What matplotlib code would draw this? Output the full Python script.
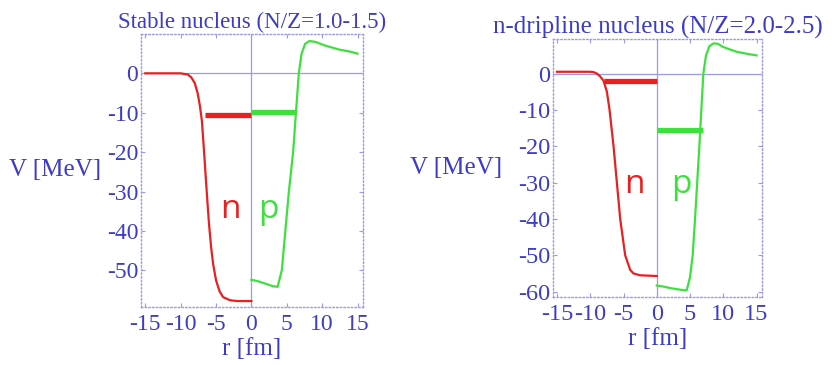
import numpy as np
import matplotlib
matplotlib.use("Agg")
import matplotlib.pyplot as plt

# mean-field potentials V(r) for neutrons (r<0 side) and protons (r>0 side)

# stable nucleus
stable_n_r = [-15, -10, -9, -8.5, -8, -7.6, -7.3, -7.0, -6.8, -6.5, -6.2, -6.0, -5.7, -5.4, -5.0, -4.5, -4.0, -3.0, -2.0, 0]
stable_n_V = [0, 0, -0.3, -1, -2.5, -5, -8, -12, -17, -25, -33, -38, -44, -48.5, -52.5, -55.3, -56.8, -57.6, -57.8, -57.8]
stable_p_r = [0, 1, 2, 3, 3.7, 4.3, 4.8, 5.3, 5.9, 6.3, 6.7, 7.1, 7.6, 8.2, 9, 10.5, 12.5, 14, 15]
stable_p_V = [-52.4, -52.8, -53.4, -54, -54.2, -50, -40, -30, -20, -10, 0, 5, 7.5, 8.2, 8, 7, 6, 5.5, 5]
stable_n_level = -10.6
stable_n_level_r = [-6.6, 0]
stable_p_level = -9.8
stable_p_level_r = [0, 6.3]

# neutron-dripline nucleus
drip_n_r = [-15, -10, -9.5, -9, -8.5, -8.0, -7.5, -7.1, -6.5, -6.0, -5.5, -4.75, -4.0, -3.5, -2.5, 0]
drip_n_V = [0.5, 0.5, 0.4, 0, -0.8, -2, -5, -10, -20, -30, -40, -50, -54, -55, -55.5, -55.7]
drip_p_r = [0, 1, 2, 3, 4, 4.5, 5.0, 5.4, 5.75, 6.4, 7.0, 7.4, 7.9, 8.5, 9.2, 10, 12, 14, 15]
drip_p_V = [-58.3, -58.6, -59, -59.3, -59.6, -59.6, -56, -50, -40, -20, 0, 5, 7.5, 8.3, 8.2, 7.3, 6, 5.3, 5]
drip_n_level = -2.0
drip_n_level_r = [-8.0, 0]
drip_p_level = -15.6
drip_p_level_r = [0, 6.9]

xticks = [-15, -10, -5, 0, 5, 10, 15]
yticks_stable = [0, -10, -20, -30, -40, -50]
yticks_drip = [0, -10, -20, -30, -40, -50, -60]

blue = "#3c3cc8"
frame = "#9a9aea"
red = "#e82020"
green = "#3ee03e"
serif = ["Liberation Serif", "DejaVu Serif"]

fig = plt.figure(figsize=(8.32, 3.65), dpi=100)


def panel(rect, title, n_r, n_V, p_r, p_V, n_lev, n_lev_r, p_lev, p_lev_r,
          yticks, ylim, n_pos, p_pos, ylab_x, title_fs, tick_fs):
    ax = fig.add_axes(rect)
    ax.set_xlim(-15.6, 15.8)
    ax.set_ylim(*ylim)
    ax.axhline(0, color=frame, lw=0.9, zorder=1)
    ax.axvline(0, color=frame, lw=0.9, zorder=1)
    ax.plot(n_r, n_V, color=red, lw=1.6, zorder=3)
    ax.plot(p_r, p_V, color=green, lw=1.6, zorder=3)
    ax.plot(n_lev_r, [n_lev, n_lev], color=red, lw=3.8, zorder=4, solid_capstyle="butt")
    ax.plot(p_lev_r, [p_lev, p_lev], color=green, lw=3.8, zorder=4, solid_capstyle="butt")
    ax.text(*n_pos, "n", color=red, fontsize=24, family="Open Sans", ha="center", va="center")
    ax.text(*p_pos, "p", color=green, fontsize=24, family="Open Sans", ha="center", va="center")
    for s in ax.spines.values():
        s.set_color(frame)
        s.set_linestyle(":")
        s.set_linewidth(1.0)
    ax.set_xticks(xticks)
    ax.set_yticks(yticks)
    ax.set_xticklabels([str(t) for t in xticks], family=serif, fontsize=tick_fs, color=blue)
    ax.set_yticklabels([str(t) for t in yticks], family=serif, fontsize=tick_fs, color=blue)
    ax.tick_params(direction="in", length=3, color=frame, pad=2, top=True, right=True)
    ax.tick_params(axis="x", pad=5)
    ax.set_title(title, family=serif, fontsize=title_fs, color=blue, pad=4)
    ax.set_xlabel("r [fm]", family=serif, fontsize=18, color=blue, labelpad=2)
    ax.text(ylab_x, 0.5, "V [MeV]", transform=ax.transAxes, family=serif, fontsize=18,
            color=blue, ha="center", va="center")
    return ax


panel([0.1695, 0.159, 0.267, 0.748], "Stable nucleus (N/Z=1.0-1.5)",
      stable_n_r, stable_n_V, stable_p_r, stable_p_V,
      stable_n_level, stable_n_level_r, stable_p_level, stable_p_level_r,
      yticks_stable, (-59.3, 10), (-3.0, -34.5), (2.4, -34.5), -0.387, 16.5, 17)

panel([0.6647, 0.186, 0.251, 0.707], "n-dripline nucleus (N/Z=2.0-2.5)",
      drip_n_r, drip_n_V, drip_p_r, drip_p_V,
      drip_n_level, drip_n_level_r, drip_p_level, drip_p_level_r,
      yticks_drip, (-61.5, 9.5), (-3.3, -30.5), (3.7, -30.5), -0.464, 18, 17.5)

fig.savefig("out.png", dpi=100)
